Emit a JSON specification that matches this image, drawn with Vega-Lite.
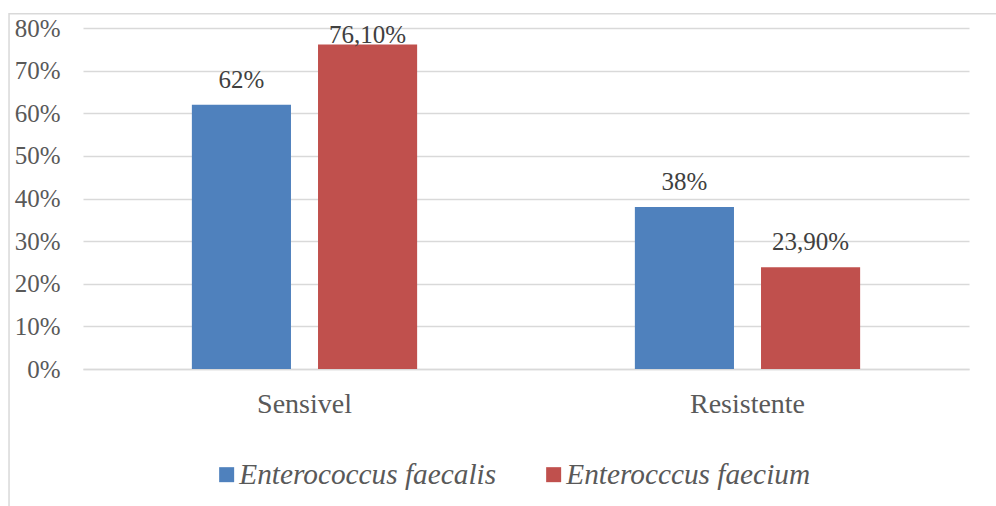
{
  "$schema": "https://vega.github.io/schema/vega-lite/v6.json",
  "autosize": {"type": "none"},
  "width": 886,
  "height": 341,
  "padding": {"left": 83, "top": 28, "right": 27, "bottom": 137},
  "background": "white",
  "config": {"font": "Liberation Serif", "view": {"stroke": null}},
  "datasets": {
    "results": [
      {"category": "Sensivel", "series": "Enterococcus faecalis", "value": 0.62, "label": "62%"},
      {"category": "Sensivel", "series": "Enterocccus faecium", "value": 0.761, "label": "76,10%"},
      {"category": "Resistente", "series": "Enterococcus faecalis", "value": 0.38, "label": "38%"},
      {"category": "Resistente", "series": "Enterocccus faecium", "value": 0.239, "label": "23,90%"}
    ],
    "frame": [{"box": "chart area"}]
  },
  "resolve": {"scale": {"x": "independent", "y": "independent"}, "axis": {"x": "independent", "y": "independent"}},
  "layer": [
    {
      "data": {"name": "frame"},
      "mark": {"type": "rect", "fill": null, "stroke": "#d9d9d9", "strokeWidth": 1.5},
      "encoding": {
        "x": {"datum": -0.0835, "type": "quantitative", "scale": {"domain": [0, 1]}, "axis": null},
        "x2": {"datum": 1.5},
        "y": {"datum": 0.8335, "type": "quantitative", "scale": {"domain": [0, 0.8]}, "axis": null},
        "y2": {"datum": -0.6}
      }
    },
    {
      "data": {"name": "results"},
      "encoding": {
        "x": {
          "field": "category", "type": "nominal", "sort": ["Sensivel", "Resistente"],
          "scale": {"paddingInner": 0, "paddingOuter": 0},
          "axis": {"title": null, "labelAngle": 0, "ticks": false, "tickSize": 0, "labelPadding": 21,
                   "labelFont": "Liberation Serif", "labelFontSize": 28, "labelColor": "#595959",
                   "domainColor": "#d9d9d9", "domainWidth": 1.5}
        },
        "xOffset": {
          "field": "series", "type": "nominal", "sort": ["Enterococcus faecalis", "Enterocccus faecium"],
          "scale": {"paddingInner": 0.2143, "paddingOuter": 0.863}
        },
        "y": {
          "field": "value", "type": "quantitative",
          "scale": {"domain": [0, 0.8], "zero": true, "nice": false},
          "axis": {"title": null, "format": ".0%", "values": [0, 0.1, 0.2, 0.3, 0.4, 0.5, 0.6, 0.7, 0.8],
                   "domain": false, "ticks": false, "tickSize": 0, "labelPadding": 23,
                   "labelFont": "Liberation Serif", "labelFontSize": 25, "labelColor": "#595959",
                   "grid": true, "gridColor": "#d9d9d9", "gridWidth": 1.5}
        }
      },
      "layer": [
        {
          "mark": {"type": "bar"},
          "encoding": {
            "color": {
              "field": "series", "type": "nominal",
              "scale": {"domain": ["Enterococcus faecalis", "Enterocccus faecium"], "range": ["#4F81BD", "#C0504D"]},
              "legend": {
                "title": null, "orient": "none", "direction": "horizontal", "legendX": 129, "legendY": 432,
                "padding": 0, "symbolType": "square", "symbolSize": 225, "symbolStrokeWidth": 0,
                "labelFont": "Liberation Serif", "labelFontStyle": "italic", "labelFontSize": 29.3,
                "labelColor": "#595959", "labelLimit": 500, "labelOffset": -2, "columnPadding": 42
              }
            }
          }
        },
        {
          "transform": [{"filter": "datum.value < 0.75"}],
          "mark": {"type": "text", "baseline": "alphabetic", "dy": -17, "font": "Liberation Serif", "fontSize": 25, "color": "#404040"},
          "encoding": {"text": {"field": "label"}}
        },
        {
          "transform": [{"filter": "datum.value >= 0.75"}],
          "mark": {"type": "text", "baseline": "alphabetic", "dy": -2, "font": "Liberation Serif", "fontSize": 25, "color": "#404040"},
          "encoding": {"text": {"field": "label"}}
        }
      ]
    }
  ]
}
